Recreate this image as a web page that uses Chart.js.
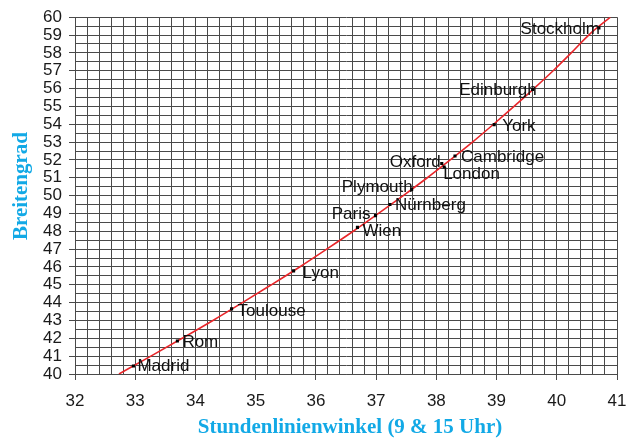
<!DOCTYPE html>
<html>
<head>
<meta charset="utf-8">
<script src="https://cdn.jsdelivr.net/npm/chart.js@4"></script>
<style>
  html, body { margin: 0; padding: 0; background: #ffffff; }
  #wrap { width: 626px; height: 443px; }
</style>
</head>
<body>
<div id="wrap"><canvas id="c" width="626" height="443"></canvas></div>
<script>
// ---- data ----
const curveLatitude = [40, 41, 42, 43, 44, 45, 46, 47, 48, 49, 50, 51, 52, 53, 54, 55, 56, 57, 58, 59, 60];
const curveAngle    = [32.73, 33.26, 33.78, 34.29, 34.78, 35.26, 35.73, 36.18, 36.62, 37.04, 37.45, 37.85, 38.23, 38.60, 38.95, 39.29, 39.62, 39.94, 40.24, 40.53, 40.89];

const cities    = ['Madrid', 'Rom', 'Toulouse', 'Lyon', 'Wien', 'Paris', 'Nürnberg', 'Plymouth', 'Oxford', 'London', 'Cambridge', 'York', 'Edinburgh', 'Stockholm'];
const cityAngle = [32.97, 33.70, 34.60, 35.63, 36.69, 36.99, 37.23, 37.59, 38.09, 38.13, 38.31, 38.96, 39.60, 40.70];
const cityLat   = [40.45, 41.85, 43.65, 45.78, 48.22, 48.88, 49.50, 50.35, 51.80, 51.60, 52.22, 53.98, 55.95, 59.40];

const xTickLabels = ['32', '33', '34', '35', '36', '37', '38', '39', '40', '41'];
const yTickLabels = ['40', '41', '42', '43', '44', '45', '46', '47', '48', '49', '50', '51', '52', '53', '54', '55', '56', '57', '58', '59', '60'];

const xTitle = 'Stundenlinienwinkel (9 & 15 Uhr)';
const yTitle = 'Breitengrad';

// ---- label placement (style only) ----
const labelDx    = [4, 5, 6, 9, 5, -5, 5, 1, -1, -1, 6, 8, 4, 1];
const labelDy    = [0.5, 1, 2, 2, 4, -1, 1, -2, -1, 7, 1, 1.5, 1, 1.5];
const labelAlign = ['left', 'left', 'left', 'left', 'left', 'right', 'left', 'right', 'right', 'left', 'left', 'left', 'right', 'right'];

const curveData = curveAngle.map((a, i) => ({ x: a, y: curveLatitude[i] }));
const cityData  = cityAngle.map((a, i) => ({ x: a, y: cityLat[i] }));

const isInt = v => Math.abs(v - Math.round(v)) < 1e-6;
const GRID = '#4a4a4a';
const BLUE = '#12a9e6';

const labelPlugin = {
  id: 'cityLabels',
  afterDatasetsDraw(chart) {
    const ctx = chart.ctx;
    const meta = chart.getDatasetMeta(1);
    ctx.save();
    ctx.font = '17px "Liberation Sans", Arial, sans-serif';
    ctx.fillStyle = '#111111';
    ctx.textBaseline = 'middle';
    meta.data.forEach((pt, i) => {
      ctx.textAlign = labelAlign[i];
      ctx.fillText(cities[i], pt.x + labelDx[i], pt.y + labelDy[i]);
    });
    ctx.restore();
  }
};

const titlePlugin = {
  id: 'axisTitles',
  afterDraw(chart) {
    const ctx = chart.ctx;
    ctx.save();
    ctx.font = 'bold 21px "Liberation Serif", "Times New Roman", serif';
    ctx.fillStyle = BLUE;
    ctx.textAlign = 'center';
    ctx.textBaseline = 'middle';
    ctx.fillText(xTitle, 350, 428);
    ctx.translate(22, 186);
    ctx.rotate(-Math.PI / 2);
    ctx.fillText(yTitle, 0, 0);
    ctx.restore();
  }
};

new Chart(document.getElementById('c'), {
  type: 'scatter',
  data: {
    datasets: [
      {
        label: 'Kurve',
        data: curveData,
        showLine: true,
        borderColor: '#e8262a',
        borderWidth: 1.6,
        pointRadius: 0,
        cubicInterpolationMode: 'monotone',
        order: 2
      },
      {
        label: 'Städte',
        data: cityData,
        pointStyle: 'rect',
        pointRadius: 2.2,
        backgroundColor: '#000000',
        borderColor: '#000000',
        borderWidth: 0,
        order: 1
      }
    ]
  },
  options: {
    responsive: false,
    animation: false,
    layout: { padding: { top: 15, right: 0, left: 0, bottom: 0 } },
    plugins: {
      legend: { display: false },
      tooltip: { enabled: false }
    },
    scales: {
      x: {
        type: 'linear',
        min: 32,
        max: 41,
        afterFit(scale) { scale.height = 69; scale.paddingRight = 9; },
        border: { display: true, color: GRID, width: 1 },
        grid: {
          color: GRID,
          lineWidth: 1,
          drawTicks: true,
          tickLength: 6,
          tickColor: ctx => (ctx.tick && isInt(ctx.tick.value)) ? GRID : 'rgba(0,0,0,0)'
        },
        ticks: {
          stepSize: 0.2,
          autoSkip: false,
          maxRotation: 0,
          padding: 11,
          color: '#1a1a1a',
          font: { family: '"Liberation Sans", Arial, sans-serif', size: 17 },
          callback: v => isInt(v) ? xTickLabels[Math.round(v) - 32] : ''
        }
      },
      y: {
        type: 'linear',
        min: 40,
        max: 60,
        afterFit(scale) { scale.width = 75; },
        border: { display: true, color: GRID, width: 1 },
        grid: {
          color: GRID,
          lineWidth: 1,
          drawTicks: true,
          tickLength: 6,
          tickColor: ctx => (ctx.tick && isInt(ctx.tick.value)) ? GRID : 'rgba(0,0,0,0)'
        },
        ticks: {
          stepSize: 0.5,
          autoSkip: false,
          padding: 7,
          color: '#1a1a1a',
          font: { family: '"Liberation Sans", Arial, sans-serif', size: 17 },
          callback: v => isInt(v) ? yTickLabels[Math.round(v) - 40] : ''
        }
      }
    }
  },
  plugins: [labelPlugin, titlePlugin]
});
</script>
</body>
</html>
